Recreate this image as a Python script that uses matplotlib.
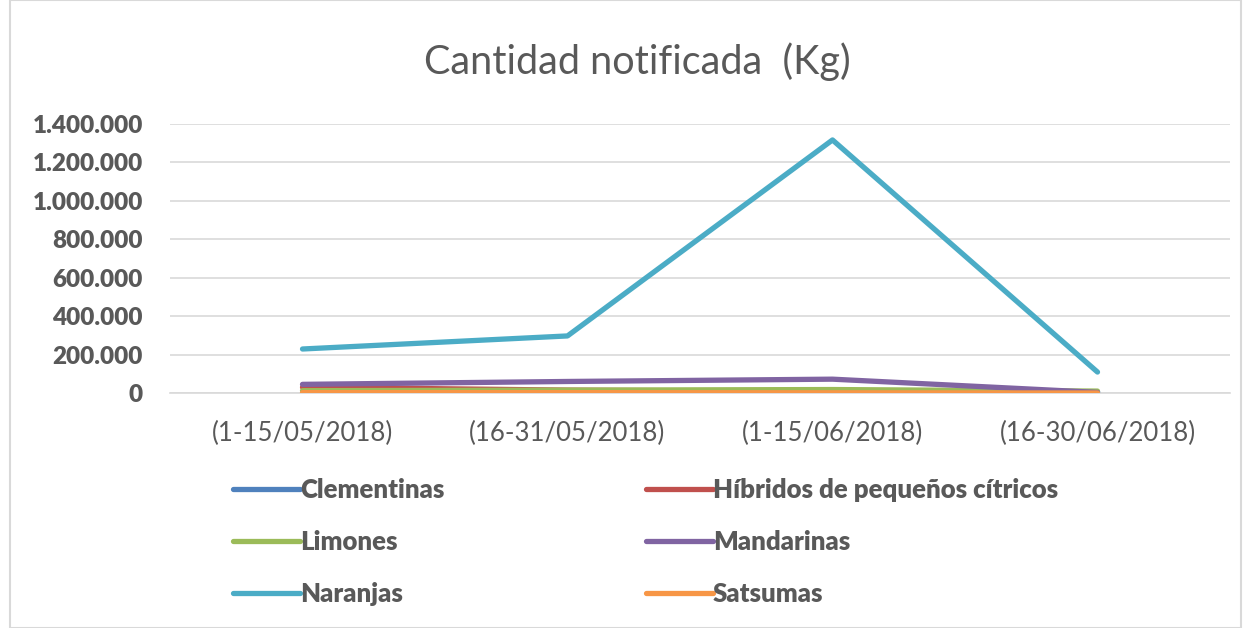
import matplotlib
matplotlib.use("Agg")
import matplotlib.pyplot as plt
from matplotlib.patches import Rectangle
from matplotlib.ticker import FuncFormatter

plt.rcParams['font.family'] = ['Lato', 'DejaVu Sans']

categories = ["(1-15/05/2018)", "(16-31/05/2018)", "(1-15/06/2018)", "(16-30/06/2018)"]
series_names = ["Clementinas", "Híbridos de pequeños cítricos", "Limones",
                "Mandarinas", "Naranjas", "Satsumas"]
clementinas = [0, 0, 0, 0]
hibridos = [30000, 15000, 8000, 0]
limones = [12000, 15000, 18000, 10000]
mandarinas = [45000, 60000, 72000, 3000]
naranjas = [229000, 297000, 1317000, 109000]
satsumas = [2000, 2000, 1000, 0]
colors = ["#4F81BD", "#C0504D", "#9BBB59", "#8064A2", "#4BACC6", "#F79646"]
yticks = [0, 200000, 400000, 600000, 800000, 1000000, 1200000, 1400000]

data = [clementinas, hibridos, limones, mandarinas, naranjas, satsumas]

W, H = 1243, 628
fig = plt.figure(figsize=(W / 100, H / 100), dpi=100)
fig.patches.append(Rectangle((10 / W, 0), 1 - 12 / W, 1, transform=fig.transFigure,
                             fill=False, edgecolor="#d9d9d9", linewidth=1.5))
ax = fig.add_axes([170 / W, 1 - 393 / H, 1060 / W, 269 / H])

x = list(range(len(categories)))
handles = []
for name, vals, c in zip(series_names, data, colors):
    ln, = ax.plot(x, vals, color=c, linewidth=3.8, solid_capstyle='round',
                  solid_joinstyle='round', label=name)
    handles.append(ln)
handles[5].set_zorder(5)

ax.set_xlim(-0.5, 3.5)
ax.set_ylim(0, 1400000)
ax.set_yticks(yticks)
ax.yaxis.set_major_formatter(FuncFormatter(lambda v, p: f"{int(v):,}".replace(",", ".")))
ax.set_xticks(x)
ax.set_xticklabels(categories, fontsize=18.5, color="#595959")
for lab in ax.get_yticklabels():
    lab.set_fontsize(17.5)
    lab.set_fontweight("heavy")
    lab.set_color("#595959")
ax.grid(axis='y', color="#d9d9d9", linewidth=1.2)
ax.set_axisbelow(True)
for s in ["top", "right", "left"]:
    ax.spines[s].set_visible(False)
ax.spines["bottom"].set_color("#d9d9d9")
ax.spines["bottom"].set_linewidth(1.2)
ax.tick_params(axis='both', length=0)
ax.tick_params(axis='x', pad=20)
ax.tick_params(axis='y', pad=19.5)

fig.text(637 / W, 1 - 62 / H, "Cantidad notificada  (Kg)", ha='center', va='center',
         fontsize=28.5, color="#595959")

legfont = dict(size=18.5, weight='heavy')
col1 = [handles[0], handles[2], handles[4]]
col2 = [handles[1], handles[3], handles[5]]
for hs, x0 in [(col1, 233), (col2, 646)]:
    leg = fig.legend(hs, [h.get_label() for h in hs], loc='upper left',
                     bbox_to_anchor=(x0 / W, 1 - 478 / H), frameon=False,
                     prop=legfont, handlelength=2.6, handletextpad=0.0,
                     labelspacing=1.09, borderaxespad=0, borderpad=0)
    for t in leg.get_texts():
        t.set_color("#595959")

fig.savefig("out.png", dpi=100)
